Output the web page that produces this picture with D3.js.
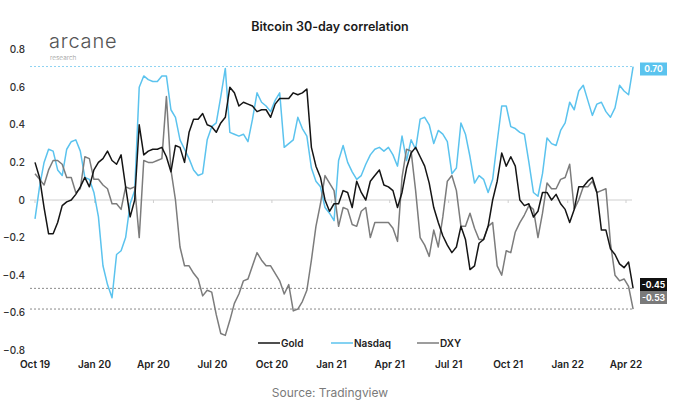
<!DOCTYPE html>
<html>
<head>
<meta charset="utf-8">
<script src="https://cdn.jsdelivr.net/npm/d3@7"></script>
<style>
  body { margin: 0; background: #fff; }
  svg { display: block; font-family: Inter, "Open Sans", sans-serif; }
</style>
</head>
<body>
<svg id="chart" width="680" height="405"></svg>
<script>
// weekly samples starting 2019-10-01
let startDate = new Date(2019, 9, 1);

let gold = [0.2, 0.12, -0.04, -0.18, -0.18, -0.12, -0.03, -0.01, 0, 0.03,
  0.07, 0.12, 0.07, 0.16, 0.2, 0.22, 0.26, 0.21, 0.19, 0.24,
  0.07, -0.09, 0, 0.4, 0.24, 0.26, 0.27, 0.27, 0.28, 0.23,
  0.15, 0.29, 0.28, 0.2, 0.36, 0.43, 0.43, 0.46, 0.4, 0.39,
  0.36, 0.41, 0.44, 0.6, 0.57, 0.5, 0.52, 0.51, 0.5, 0.47,
  0.48, 0.48, 0.44, 0.51, 0.54, 0.54, 0.54, 0.57, 0.56, 0.57,
  0.59, 0.28, 0.18, 0.12, 0, -0.06, -0.02, -0.02, 0.05, 0.04,
  -0.04, 0.1, 0.04, 0, 0.1, 0.13, 0.16, 0.08, 0.07, 0.05,
  -0.04, 0.04, 0.17, 0.25, 0.28, 0.23, 0.18, 0.09, -0.04, -0.12,
  -0.19, -0.24, -0.28, -0.25, -0.14, -0.21, -0.37, -0.35, -0.23, -0.21,
  -0.14, 0, 0.1, 0.25, 0.18, 0.23, 0.18, 0, -0.03, -0.02,
  -0.09, -0.06, 0.04, 0.04, 0, 0.03, -0.02, -0.05, -0.12, -0.05,
  0.07, 0.07, 0.1, 0.12, 0.04, -0.16, -0.16, -0.26, -0.29, -0.34,
  -0.36, -0.33, -0.47];

let nasdaq = [-0.1, 0.07, 0.2, 0.27, 0.26, 0.16, 0.13, 0.27, 0.31, 0.32,
  0.26, 0.12, 0.11, 0.04, -0.09, -0.35, -0.45, -0.52, -0.29, -0.27,
  -0.2, -0.02, 0.05, 0.6, 0.66, 0.64, 0.63, 0.63, 0.66, 0.66,
  0.48, 0.44, 0.32, 0.27, 0.22, 0.16, 0.13, 0.14, 0.32, 0.39,
  0.41, 0.55, 0.7, 0.36, 0.35, 0.34, 0.35, 0.31, 0.43, 0.57,
  0.52, 0.5, 0.47, 0.53, 0.57, 0.28, 0.3, 0.32, 0.44, 0.38,
  0.34, 0.17, 0.1, 0.07, -0.04, -0.07, -0.11, 0.21, 0.29, 0.2,
  0.15, 0.11, 0.13, 0.19, 0.24, 0.27, 0.28, 0.26, 0.28, 0.24,
  0.18, 0.34, 0.21, 0.32, 0.27, 0.43, 0.44, 0.4, 0.3, 0.37,
  0.35, 0.31, 0.14, 0.17, 0.41, 0.35, 0.23, 0.09, 0.13, 0.11,
  0.04, 0.11, 0.31, 0.5, 0.5, 0.39, 0.38, 0.36, 0.35, 0.2,
  0.04, 0.02, 0.14, 0.33, 0.3, 0.29, 0.37, 0.41, 0.52, 0.48,
  0.58, 0.61, 0.53, 0.45, 0.51, 0.52, 0.47, 0.44, 0.49, 0.61,
  0.58, 0.56, 0.71];

let dxy = [0.14, 0.11, 0.08, 0.16, 0.21, 0.21, 0.19, 0.12, 0.12, 0.04,
  0.06, 0.23, 0.22, 0.11, 0.11, 0.08, 0.06, -0.02, -0.02, -0.05,
  0.07, 0.06, 0.07, -0.2, 0.21, 0.2, 0.2, 0.21, 0.22, 0.55,
  0.16, 0, -0.25, -0.35, -0.35, -0.39, -0.42, -0.51, -0.48, -0.49,
  -0.61, -0.71, -0.72, -0.64, -0.55, -0.5, -0.43, -0.42, -0.35, -0.28,
  -0.32, -0.35, -0.35, -0.39, -0.43, -0.5, -0.45, -0.59, -0.58, -0.54,
  -0.48, -0.32, -0.14, -0.02, 0.13, 0.09, 0.05, -0.14, -0.04, -0.05,
  -0.13, -0.14, -0.06, -0.04, -0.2, -0.12, -0.12, -0.12, -0.12, -0.15,
  -0.22, 0.12, 0.27, 0.26, 0.05, -0.2, -0.24, -0.3, -0.16, -0.25,
  -0.09, 0.1, 0.13, 0.05, -0.14, -0.14, -0.07, -0.15, -0.21, -0.21,
  -0.14, -0.12, -0.35, -0.4, -0.27, -0.28, -0.17, -0.12, -0.08, -0.03,
  -0.05, -0.2, -0.07, 0.09, 0.06, 0.06, 0.11, 0.12, 0.19, -0.05,
  0, 0.07, 0.07, 0.1, 0.04, 0.05, 0.06, -0.23, -0.4, -0.43,
  -0.42, -0.46, -0.58];

let seriesNames = ["Gold", "Nasdaq", "DXY"];
let seriesColors = ["#151515", "#5bc3ee", "#7c7c7c"];
let endLabels = ["-0.45", "0.70", "-0.53"];

let yTicks = [-0.8, -0.6, -0.4, -0.2, 0, 0.2, 0.4, 0.6, 0.8];
let xTickLabels = ["Oct 19", "Jan 20", "Apr 20", "Jul 20", "Oct 20", "Jan 21",
  "Apr 21", "Jul 21", "Oct 21", "Jan 22", "Apr 22"];

let svg = d3.select("#chart");

let x = d3.scaleTime()
    .domain([new Date(2019, 9, 1), new Date(2022, 3, 1)])
    .range([35, 626]);

let y = d3.scaleLinear()
    .domain([-0.8, 0.8])
    .range([350.4, 49.6]);

function toPoints(values) {
    return values.map(function(v, i) {
        return {date: d3.timeDay.offset(startDate, i * 7), value: v};
    });
}

let series = [gold, nasdaq, dxy].map(function(vals, i) {
    return {name: seriesNames[i], color: seriesColors[i], label: endLabels[i], points: toPoints(vals)};
});

// title + branding
svg.append("text")
    .attr("x", 330).attr("y", 31)
    .attr("text-anchor", "middle")
    .attr("font-size", 12.5).attr("font-weight", 600)
    .attr("fill", "#1a1a1a")
    .text("Bitcoin 30-day correlation");

svg.append("text")
    .attr("x", 49).attr("y", 48)
    .attr("font-size", 20).attr("font-weight", 300)
    .attr("letter-spacing", 0.8)
    .attr("fill", "#555")
    .text("arcane");

svg.append("text")
    .attr("x", 50).attr("y", 60)
    .attr("font-size", 6.5).attr("font-weight", 300)
    .attr("fill", "#999")
    .text("research");

svg.append("text")
    .attr("x", 330).attr("y", 397)
    .attr("text-anchor", "middle")
    .attr("font-size", 12)
    .attr("fill", "#7a7a7a")
    .text("Source: Tradingview");

// y axis labels
svg.append("g")
    .selectAll("text")
    .data(yTicks)
    .enter().append("text")
    .attr("x", 25)
    .attr("y", function(d) { return y(d) + 3.5; })
    .attr("text-anchor", "end")
    .attr("font-size", 10).attr("font-weight", 500)
    .attr("fill", "#333")
    .text(function(d) { return d === 0 ? "0" : d3.format(".1f")(d); });

// x axis labels
let xTickDates = d3.timeMonth.every(3).range(new Date(2019, 9, 1), new Date(2022, 3, 2));
svg.append("g")
    .selectAll("text")
    .data(xTickDates)
    .enter().append("text")
    .attr("x", function(d) { return x(d); })
    .attr("y", 368)
    .attr("text-anchor", "middle")
    .attr("font-size", 10).attr("font-weight", 600)
    .attr("fill", "#222")
    .text(function(d, i) { return xTickLabels[i]; });

// zero line with little ticks
svg.append("line")
    .attr("x1", 30).attr("x2", 632)
    .attr("y1", y(0)).attr("y2", y(0))
    .attr("stroke", "#cfcfcf").attr("stroke-width", 1);

svg.append("g")
    .selectAll("line")
    .data(xTickDates)
    .enter().append("line")
    .attr("x1", function(d) { return x(d); })
    .attr("x2", function(d) { return x(d); })
    .attr("y1", y(0)).attr("y2", y(0) + 3)
    .attr("stroke", "#cfcfcf");

// last value guide lines
series.forEach(function(s) {
    let last = s.points[s.points.length - 1];
    svg.append("line")
        .attr("x1", 30).attr("x2", x(last.date))
        .attr("y1", y(last.value)).attr("y2", y(last.value))
        .attr("stroke", s.name === "Nasdaq" ? "#8fd3f2" : "#8a8a8a")
        .attr("stroke-width", 1)
        .attr("stroke-dasharray", "2,2");
});

// lines
let line = d3.line()
    .x(function(d) { return x(d.date); })
    .y(function(d) { return y(d.value); });

[1, 2, 0].forEach(function(i) {
    svg.append("path")
        .datum(series[i].points)
        .attr("fill", "none")
        .attr("stroke", series[i].color)
        .attr("stroke-width", 1.5)
        .attr("stroke-linejoin", "round")
        .attr("d", line);
});

// end labels
let labelY = {"Nasdaq": 69, "Gold": 284.5, "DXY": 297.5};
series.forEach(function(s) {
    let g = svg.append("g").attr("transform", "translate(640," + (labelY[s.name] - 6.5) + ")");
    g.append("rect")
        .attr("width", 27).attr("height", 13)
        .attr("fill", s.name === "Nasdaq" ? "#5bc3ee" : (s.name === "Gold" ? "#111" : "#7a7a7a"));
    g.append("text")
        .attr("x", 13.5).attr("y", 9.8)
        .attr("text-anchor", "middle")
        .attr("font-size", 8.5).attr("font-weight", 700)
        .attr("fill", "#fff")
        .text(s.label);
});

// legend
let legendX = [258, 331, 417];
let legend = svg.append("g")
    .selectAll("g")
    .data(series)
    .enter().append("g")
    .attr("transform", function(d, i) { return "translate(" + legendX[i] + ",343)"; });

legend.append("line")
    .attr("x1", 0).attr("x2", 22)
    .attr("stroke", function(d) { return d.color; })
    .attr("stroke-width", 1.5);

legend.append("text")
    .attr("x", 23).attr("y", 3.5)
    .attr("font-size", 10).attr("font-weight", 600)
    .attr("fill", "#222")
    .text(function(d) { return d.name; });
</script>
</body>
</html>
